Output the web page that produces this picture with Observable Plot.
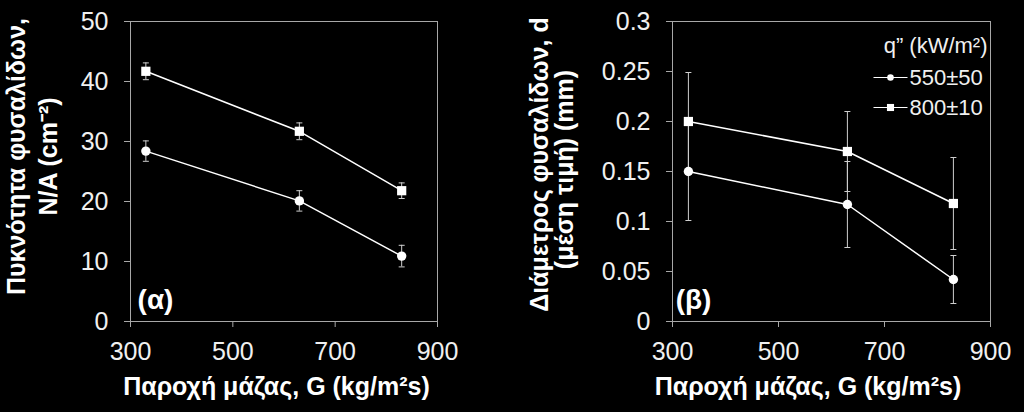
<!DOCTYPE html>
<html>
<head>
<meta charset="utf-8">
<script src="https://cdn.jsdelivr.net/npm/d3@7"></script>
<script src="https://cdn.jsdelivr.net/npm/@observablehq/plot@0.6"></script>
<style>
  html, body { margin: 0; padding: 0; background: #000; }
  #wrap { position: relative; width: 1024px; height: 412px; background: #000; overflow: hidden; }
  #left, #right { position: absolute; top: 0; }
  #left { left: 0; }
  #right { left: 512px; }
</style>
</head>
<body>
<div id="wrap"><div id="left"></div><div id="right"></div></div>
<script>
// ---- data ----
const massFlux = [330, 630, 830];                 // G (kg/m2s)
const seriesNames = ["550±50", "800±10"];         // q'' (kW/m2)
const densityLow = [28.4, 20.1, 10.9];
const densityLowErr = [1.7, 1.7, 1.8];
const densityHigh = [41.7, 31.7, 21.8];
const densityHighErr = [1.4, 1.4, 1.3];
const diamLow = [0.150, 0.117, 0.042];
const diamLowErr = [0.049, 0.043, 0.024];
const diamHigh = [0.200, 0.170, 0.118];
const diamHighErr = [0.049, 0.040, 0.046];
const xTicks = [300, 500, 700, 900];
const yTicksA = [0, 10, 20, 30, 40, 50];
const yTicksB = [0, 0.05, 0.1, 0.15, 0.2, 0.25, 0.3];
const xTitle = ["Παροχή μάζας, G (kg/m²s)"];
const yTitleA = ["Πυκνότητα φυσαλίδων,", "N/A (cm⁻²)"];
const yTitleB = ["Διάμετρος φυσαλίδων, d", "(μέση τιμή) (mm)"];
const panelTags = ["(α)", "(β)"];
const legendTitle = ["q” (kW/m²)"];

function rowsOf(low, lowErr, high, highErr) {
  const rows = [];
  massFlux.forEach((g, i) => rows.push({G: g, v: low[i], e: lowErr[i], s: seriesNames[0]}));
  massFlux.forEach((g, i) => rows.push({G: g, v: high[i], e: highErr[i], s: seriesNames[1]}));
  return rows;
}
const rowsA = rowsOf(densityLow, densityLowErr, densityHigh, densityHighErr);
const rowsB = rowsOf(diamLow, diamLowErr, diamHigh, diamHighErr);

const FONT = "'Liberation Sans', Arial, sans-serif";
const AXIS = "#a8a8a8";
const TXT = "#f0f0f0";
const hline = { draw(ctx, size) { const r = Math.sqrt(size / Math.PI); ctx.moveTo(-r, 0); ctx.lineTo(r, 0); } };

function dataMarks(rows) {
  return [
    Plot.ruleX(rows, {x: "G", y1: d => d.v - d.e, y2: d => d.v + d.e, stroke: "#cfcfcf", strokeWidth: 1}),
    Plot.dot(rows, {x: "G", y: d => d.v + d.e, symbol: hline, r: 3, fill: "none", stroke: "#cfcfcf", strokeWidth: 1}),
    Plot.dot(rows, {x: "G", y: d => d.v - d.e, symbol: hline, r: 3, fill: "none", stroke: "#cfcfcf", strokeWidth: 1}),
    Plot.line(rows, {x: "G", y: "v", z: "s", stroke: "#ffffff", strokeWidth: 1.5}),
    Plot.dot(rows.filter(d => d.s === seriesNames[0]), {x: "G", y: "v", symbol: "circle", r: 4.7, fill: "#ffffff", stroke: "none"}),
    Plot.dot(rows.filter(d => d.s === seriesNames[1]), {x: "G", y: "v", symbol: "square", r: 5.2, fill: "#ffffff", stroke: "none"})
  ];
}

function axes(yTicks, yFmt) {
  return [
    Plot.frame({stroke: AXIS, strokeWidth: 1}),
    Plot.axisX({ticks: xTicks, tickSize: 6, tickPadding: 15, stroke: AXIS, fill: TXT, fontSize: 25, label: null, tickFormat: d => String(d)}),
    Plot.axisY({ticks: yTicks, tickSize: 6, tickPadding: 16, stroke: AXIS, fill: TXT, fontSize: 25, label: null, tickFormat: yFmt})
  ];
}

const titleStyle = {fontSize: 25, fontWeight: "bold", fill: "#fff", lineAnchor: "middle", textAnchor: "middle"};

const common = {
  width: 512, height: 412, marginTop: 21, marginBottom: 91,
  style: {background: "#000", color: TXT, fontFamily: FONT, overflow: "visible"},
  x: {domain: [300, 900]}
};

const left = Plot.plot({
  ...common,
  marginLeft: 130, marginRight: 75,
  y: {domain: [0, 50]},
  marks: [
    ...axes(yTicksA, d => String(d)),
    ...dataMarks(rowsA),
    Plot.text(xTitle, {...titleStyle, frameAnchor: "bottom", dx: -7.5, dy: 65}),
    Plot.text([yTitleA[0]], {...titleStyle, frameAnchor: "left", rotate: -90, dx: -114, dy: -15}),
    Plot.text([yTitleA[1]], {...titleStyle, frameAnchor: "left", rotate: -90, dx: -82, dy: -15}),
    Plot.text([panelTags[0]], {...titleStyle, fontSize: 28, frameAnchor: "bottom-left", dx: 25, dy: -21.5})
  ]
});

const right = Plot.plot({
  ...common,
  marginLeft: 160, marginRight: 34,
  y: {domain: [0, 0.3]},
  marks: [
    ...axes(yTicksB, d => String(d)),
    ...dataMarks(rowsB),
    Plot.text(xTitle, {...titleStyle, frameAnchor: "bottom", dx: -23.5, dy: 65}),
    Plot.text([yTitleB[0]], {...titleStyle, frameAnchor: "left", rotate: -90, dx: -133, dy: -7}),
    Plot.text([yTitleB[1]], {...titleStyle, frameAnchor: "left", rotate: -90, dx: -108, dy: -2}),
    Plot.text([panelTags[1]], {...titleStyle, fontSize: 28, frameAnchor: "bottom-left", dx: 21, dy: -21}),
    // legend
    Plot.text(legendTitle, {frameAnchor: "top-right", dx: -3, dy: 24, fontSize: 22, fill: TXT, textAnchor: "end", lineAnchor: "middle"}),
    Plot.dot([seriesNames[0]], {frameAnchor: "top-right", dx: -100, dy: 56, symbol: hline, r: 17, fill: "none", stroke: "#fff", strokeWidth: 1.2}),
    Plot.dot([seriesNames[0]], {frameAnchor: "top-right", dx: -100, dy: 56, symbol: "circle", r: 3.3, fill: "#fff", stroke: "none"}),
    Plot.text([seriesNames[0]], {frameAnchor: "top-right", dx: -81, dy: 56, fontSize: 22, fill: TXT, textAnchor: "start", lineAnchor: "middle"}),
    Plot.dot([seriesNames[1]], {frameAnchor: "top-right", dx: -100, dy: 86, symbol: hline, r: 17, fill: "none", stroke: "#fff", strokeWidth: 1.2}),
    Plot.dot([seriesNames[1]], {frameAnchor: "top-right", dx: -100, dy: 86, symbol: "square", r: 4, fill: "#fff", stroke: "none"}),
    Plot.text([seriesNames[1]], {frameAnchor: "top-right", dx: -81, dy: 86, fontSize: 22, fill: TXT, textAnchor: "start", lineAnchor: "middle"})
  ]
});

document.getElementById("left").appendChild(left);
document.getElementById("right").appendChild(right);
</script>
</body>
</html>
